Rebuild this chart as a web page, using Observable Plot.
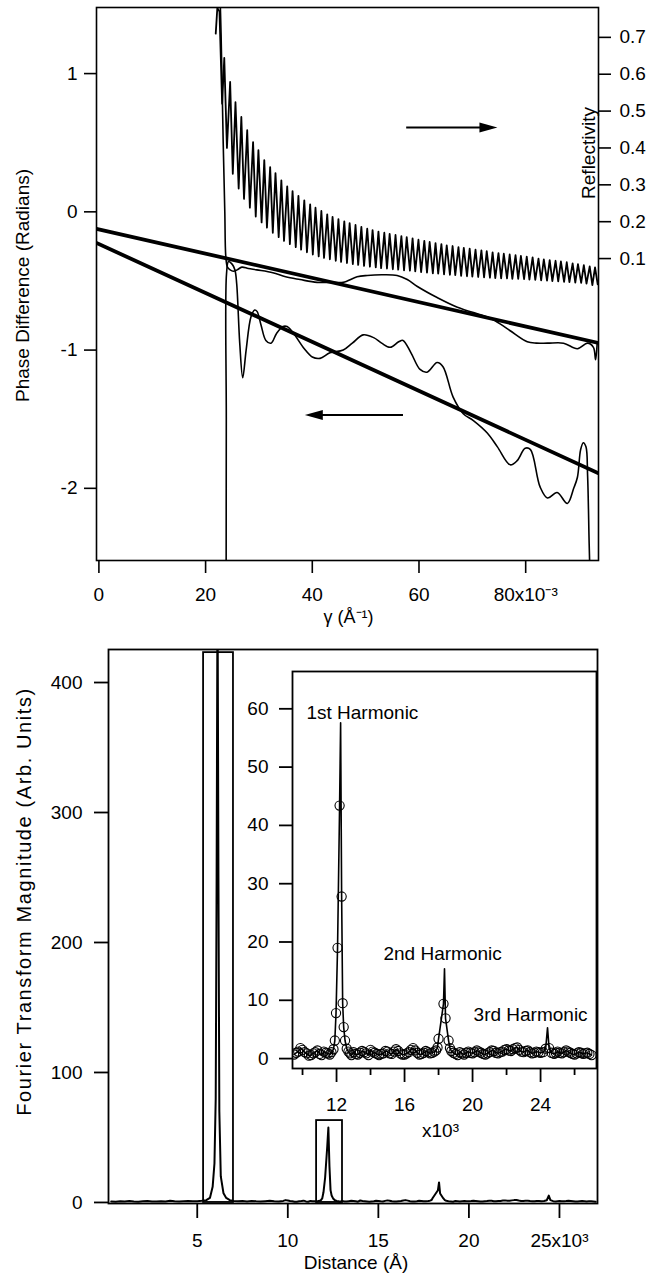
<!DOCTYPE html>
<html>
<head>
<meta charset="utf-8">
<script src="https://cdn.jsdelivr.net/npm/d3@7"></script>
<script src="https://cdn.jsdelivr.net/npm/@observablehq/plot@0.6"></script>
<style>
  html, body { margin: 0; padding: 0; background: #fff; }
  #root { position: relative; width: 658px; height: 1274px; overflow: hidden; background: #fff; }
  #root svg { position: absolute; }
</style>
</head>
<body>
<div id="root"></div>
<script>
// ---------------- TOP PANEL DATA ----------------
// gamma in units of 1e-3 Å^-1
const reflGamma = [21.9, 22.2, 22.6, 23.1, 23.5, 24.0, 24.6, 25.1, 25.6, 26.2, 26.7, 27.2, 27.8, 28.3, 28.9, 29.4, 29.9, 30.5, 31.0, 31.5, 32.1, 32.6, 33.1, 33.7, 34.2, 34.7, 35.3, 35.8, 36.3, 36.9, 37.4, 37.9, 38.5, 39.0, 39.6, 40.1, 40.6, 41.2, 41.7, 42.2, 42.8, 43.3, 43.8, 44.4, 44.9, 45.4, 46.0, 46.5, 47.0, 47.6, 48.1, 48.6, 49.2, 49.7, 50.3, 50.8, 51.3, 51.9, 52.4, 52.9, 53.5, 54.0, 54.5, 55.1, 55.6, 56.1, 56.7, 57.2, 57.7, 58.3, 58.8, 59.3, 59.9, 60.4, 61.0, 61.5, 62.0, 62.6, 63.1, 63.6, 64.2, 64.7, 65.2, 65.8, 66.3, 66.8, 67.4, 67.9, 68.4, 69.0, 69.5, 70.0, 70.6, 71.1, 71.7, 72.2, 72.7, 73.3, 73.8, 74.3, 74.9, 75.4, 75.9, 76.5, 77.0, 77.5, 78.1, 78.6, 79.1, 79.7, 80.2, 80.7, 81.3, 81.8, 82.4, 82.9, 83.4, 84.0, 84.5, 85.0, 85.6, 86.1, 86.6, 87.2, 87.7, 88.2, 88.8, 89.3, 89.8, 90.4, 90.9, 91.4, 92.0, 92.5, 93.0, 93.5];
const reflValue = [0.71, 0.78, 0.77, 0.52, 0.644, 0.40, 0.579, 0.33, 0.524, 0.29, 0.484, 0.262, 0.448, 0.238, 0.416, 0.214, 0.394, 0.198, 0.367, 0.184, 0.348, 0.170, 0.332, 0.158, 0.312, 0.148, 0.296, 0.139, 0.283, 0.131, 0.270, 0.124, 0.258, 0.117, 0.247, 0.111, 0.238, 0.106, 0.229, 0.102, 0.220, 0.098, 0.213, 0.094, 0.207, 0.091, 0.201, 0.088, 0.196, 0.085, 0.191, 0.083, 0.186, 0.080, 0.181, 0.078, 0.177, 0.076, 0.173, 0.074, 0.170, 0.073, 0.167, 0.071, 0.164, 0.070, 0.161, 0.068, 0.158, 0.067, 0.155, 0.065, 0.151, 0.063, 0.148, 0.062, 0.145, 0.060, 0.142, 0.059, 0.139, 0.057, 0.136, 0.056, 0.134, 0.055, 0.131, 0.053, 0.129, 0.052, 0.127, 0.051, 0.124, 0.050, 0.122, 0.049, 0.120, 0.048, 0.117, 0.047, 0.115, 0.046, 0.113, 0.046, 0.111, 0.045, 0.109, 0.045, 0.107, 0.044, 0.105, 0.043, 0.103, 0.042, 0.100, 0.041, 0.098, 0.040, 0.096, 0.039, 0.094, 0.038, 0.092, 0.037, 0.090, 0.036, 0.087, 0.035, 0.085, 0.034, 0.082, 0.032, 0.079, 0.028, 0.076, 0.030];

const phaseUpperGamma = [22.6, 22.9, 23.3, 23.6, 23.8, 24.1, 24.6, 25.2, 25.9, 26.8, 28.0, 29.6, 32.6, 35.0, 37.7, 40.9, 43.9, 45.8, 48.4, 50.3, 53.0, 55.9, 57.8, 59.7, 63.4, 67.2, 72.0, 73.4, 75.2, 77.1, 80.3, 82.0, 84.1, 87.1, 89.7, 91.6, 92.7, 93.1, 93.4];
const phaseUpperValue = [1.7, 1.29, 0.5, 0.0, -0.33, -0.40, -0.42, -0.43, -0.42, -0.40, -0.41, -0.42, -0.44, -0.47, -0.49, -0.51, -0.51, -0.51, -0.47, -0.46, -0.455, -0.46, -0.49, -0.54, -0.62, -0.69, -0.75, -0.77, -0.81, -0.86, -0.94, -0.95, -0.95, -0.95, -0.99, -0.95, -0.98, -1.07, -0.95];

const phaseLowerGamma = [23.85, 23.88, 23.92, 24.3, 25.0, 25.5, 25.83, 26.4, 26.96, 27.6, 28.5, 29.2, 29.64, 30.4, 31.3, 32.27, 33.3, 34.5, 35.27, 36.5, 38.5, 40.0, 41.46, 43.3, 45.8, 47.5, 49.53, 51.5, 53.0, 54.6, 56.2, 57.0, 58.5, 60.2, 61.5, 63.4, 64.5, 66.4, 68.3, 70.2, 72.8, 74.7, 77.1, 78.4, 79.9, 80.9, 82.7, 84.1, 85.9, 87.8, 89.0, 89.7, 90.3, 90.8, 91.3, 91.6, 91.9, 92.1];
const phaseLowerValue = [-2.7, -1.5, -0.45, -0.36, -0.38, -0.42, -0.52, -0.95, -1.20, -1.0, -0.76, -0.71, -0.72, -0.82, -0.93, -0.95, -0.88, -0.83, -0.83, -0.88, -0.99, -1.05, -1.06, -1.02, -1.0, -0.95, -0.89, -0.91, -0.95, -0.98, -0.94, -0.93, -1.02, -1.14, -1.16, -1.09, -1.12, -1.34, -1.46, -1.51, -1.60, -1.70, -1.83, -1.80, -1.71, -1.72, -1.99, -2.07, -2.03, -2.11, -2.0, -1.92, -1.72, -1.67, -1.7, -1.9, -2.4, -2.7];

const fitGamma = [-0.45, 93.65];
const fitUpperValue = [-0.123, -0.949];
const fitLowerValue = [-0.225, -1.891];

const gammaTicks = [0, 20, 40, 60, 80];
const gammaTickLabels = ["0", "20", "40", "60", "80x10\u207B\u00B3"];
const phaseTicks = [-2, -1, 0, 1];
const phaseTickLabels = ["-2", "-1", "0", "1"];
const reflTicks = [0.1, 0.2, 0.3, 0.4, 0.5, 0.6, 0.7];
const reflTickLabels = ["0.1", "0.2", "0.3", "0.4", "0.5", "0.6", "0.7"];

// ---------------- BOTTOM PANEL DATA ----------------
// distance in units of 1e3 Å
const ftDistance = [0.25, 0.5, 0.75, 1.0, 1.25, 1.5, 1.75, 2.0, 2.25, 2.5, 2.75, 3.0, 3.25, 3.5, 3.75, 4.0, 4.25, 4.5, 4.75, 5.0, 5.25, 5.5, 5.7, 5.85, 5.95, 6.02, 6.07, 6.12, 6.17, 6.22, 6.3, 6.45, 6.6, 6.8, 7.0, 7.25, 7.5, 7.75, 8.0, 8.25, 8.5, 8.75, 9.0, 9.25,
  9.5, 9.625, 9.75, 9.875, 10.0, 10.125, 10.25, 10.375, 10.5, 10.625, 10.75, 10.875, 11.0, 11.125, 11.25, 11.375, 11.5, 11.6, 11.7, 11.82, 11.9, 11.97, 12.06, 12.18, 12.30, 12.36, 12.42, 12.5, 12.6, 12.7, 12.8, 12.875,
  13.0, 13.125, 13.25, 13.375, 13.5, 13.625, 13.75, 13.875, 14.0, 14.125, 14.25, 14.375, 14.5, 14.625, 14.75, 14.875, 15.0, 15.125, 15.25, 15.375, 15.5, 15.625, 15.75, 15.875,
  16.0, 16.125, 16.25, 16.375, 16.5, 16.625, 16.75, 16.875, 17.0, 17.125, 17.25, 17.375, 17.5, 17.625, 17.75, 17.85, 17.94, 18.0, 18.29, 18.41, 18.59, 18.67, 18.75, 18.875,
  19.0, 19.125, 19.25, 19.375, 19.5, 19.625, 19.75, 19.875, 20.0, 20.125, 20.25, 20.375, 20.5, 20.625, 20.75, 20.875, 21.0, 21.125, 21.25, 21.375, 21.5, 21.625, 21.75, 21.875,
  22.0, 22.125, 22.25, 22.375, 22.5, 22.625, 22.75, 22.875, 23.0, 23.125, 23.25, 23.375, 23.5, 23.625, 23.75, 23.875, 24.0, 24.15, 24.3, 24.5, 24.65, 24.8, 24.9,
  25.0, 25.125, 25.25, 25.375, 25.5, 25.625, 25.75, 25.875, 26.0, 26.125, 26.25, 26.375, 26.5, 26.625, 26.75, 26.875, 27.0];
const ftMagnitude = [0.8, 0.6, 0.9, 0.7, 1.1, 0.8, 0.6, 0.9, 1.2, 0.8, 0.7, 1.0, 0.8, 1.3, 0.9, 0.7, 1.0, 1.2, 0.9, 1.0, 1.3, 1.8, 3.5, 12, 30, 80, 250, 480, 250, 70, 20, 7, 3.5, 1.8, 1.2, 0.9, 1.1, 0.8, 1.2, 0.9, 0.7, 1.0, 1.3, 0.9,
  0.7, 1.0, 1.2, 1.8, 1.5, 1.1, 0.9, 0.5, 0.6, 0.9, 1.1, 1.4, 0.8, 0.6, 1.2, 1.0, 0.9, 0.7, 1.1, 1.6, 3.1, 7.8, 19.0, 43.4, 27.8, 9.5, 5.4, 3.1, 1.7, 1.2, 0.9, 0.6,
  1.1, 0.8, 0.7, 1.0, 1.3, 1.1, 0.9, 0.6, 1.5, 1.2, 1.0, 0.8, 0.6, 0.8, 0.9, 1.3, 1.2, 0.9, 0.8, 1.2, 1.6, 1.3, 0.9, 0.7,
  0.7, 0.9, 1.1, 1.5, 1.8, 1.4, 1.0, 0.7, 0.8, 1.0, 1.3, 1.1, 0.9, 1.0, 1.2, 1.4, 1.9, 3.4, 9.4, 6.9, 3.1, 1.8, 1.3, 1.0,
  0.8, 0.6, 1.1, 0.9, 0.7, 1.0, 1.2, 1.0, 0.9, 1.1, 1.4, 1.2, 1.0, 0.8, 0.7, 0.9, 1.1, 1.4, 1.3, 1.0, 0.9, 1.1, 1.2, 1.5,
  1.6, 1.4, 1.3, 1.6, 1.8, 1.9, 1.5, 1.2, 1.1, 1.3, 1.4, 1.1, 0.9, 1.0, 1.2, 1.1, 1.0, 1.1, 1.7, 1.8, 1.0, 0.8, 1.0,
  1.2, 1.0, 0.9, 1.1, 1.4, 1.2, 1.0, 0.8, 0.7, 0.9, 1.1, 1.0, 0.8, 0.9, 1.0, 0.8, 0.6];
// harmonic peak apexes (line only, between sampled circles)
const apexDistance = [12.24, 18.35, 24.41];
const apexMagnitude = [57.6, 15.4, 5.3];

const boxFrom = [5.35, 11.59];
const boxTo = [7.0, 13.02];
const boxTop = [423, 63];

const distTicks = [5, 10, 15, 20, 25];
const distTickLabels = ["5", "10", "15", "20", "25x10\u00B3"];
const magTicks = [0, 100, 200, 300, 400];
const insetMajorTicks = [12, 16, 20, 24];
const insetMinorTicks = [10, 14, 18, 22, 26];
const insetMagTicks = [0, 10, 20, 30, 40, 50, 60];
const harmonicLabels = ["1st Harmonic", "2nd Harmonic", "3rd Harmonic"];

// ---------------- BUILD ----------------
const FONT = '"Liberation Sans", Arial, Helvetica, sans-serif';
const baseStyle = {fontFamily: FONT, fontSize: "19px", color: "#000", background: "transparent", overflow: "visible"};
const rows = (xs, ys) => xs.map((x, i) => ({x, y: ys[i]}));
const arrowHead = {
  draw(ctx) { ctx.moveTo(0, 0); ctx.lineTo(-18, -5); ctx.lineTo(-18, 5); ctx.closePath(); }
};
const root = document.getElementById("root");
function place(svg, left, top) {
  svg.style.left = left + "px";
  svg.style.top = top + "px";
  root.appendChild(svg);
}

// Top: phase plot
const topPhase = Plot.plot({
  width: 658, height: 630,
  marginLeft: 96, marginRight: 60, marginTop: 7, marginBottom: 70,
  style: baseStyle,
  x: {domain: [-0.45, 93.65]},
  y: {domain: [-2.522, 1.478]},
  marks: [
    Plot.line(rows(fitGamma, fitUpperValue), {x: "x", y: "y", stroke: "#000", strokeWidth: 3.8, clip: true}),
    Plot.line(rows(fitGamma, fitLowerValue), {x: "x", y: "y", stroke: "#000", strokeWidth: 3.8, clip: true}),
    Plot.line(rows(phaseUpperGamma, phaseUpperValue), {x: "x", y: "y", stroke: "#000", strokeWidth: 1.6, curve: "catmull-rom", clip: true}),
    Plot.line(rows(phaseLowerGamma, phaseLowerValue), {x: "x", y: "y", stroke: "#000", strokeWidth: 1.6, curve: "catmull-rom", clip: true}),
    Plot.frame({stroke: "#000", strokeWidth: 1.6}),
    Plot.axisY(phaseTicks, {anchor: "left", tickSize: 12, tickPadding: 7, strokeWidth: 1.6, tickFormat: (d) => phaseTickLabels[phaseTicks.indexOf(d)], label: null}),
    Plot.axisX(gammaTicks, {anchor: "bottom", tickSize: 13, tickPadding: 14, strokeWidth: 1.6, tickFormat: (d) => gammaTickLabels[gammaTicks.indexOf(d)], label: null}),
    // arrows
    Plot.link([0], {x1: 57.6, x2: 71.5, y1: 0.61, y2: 0.61, stroke: "#000", strokeWidth: 2}),
    Plot.dot([0], {x: 74.7, y: 0.61, symbol: arrowHead, fill: "#000", stroke: "none", r: 5}),
    Plot.link([0], {x1: 57.0, x2: 41.8, y1: -1.47, y2: -1.47, stroke: "#000", strokeWidth: 2}),
    Plot.dot([0], {x: 38.6, y: -1.47, symbol: arrowHead, fill: "#000", stroke: "none", r: 5, rotate: 180}),
    Plot.text(["Phase Difference (Radians)"], {text: (d) => d, frameAnchor: "left", dx: -74, dy: 1.5, rotate: -90, textAnchor: "middle", lineAnchor: "middle", fill: "#000"}),
    Plot.text(["\u03B3 (\u00C5\u207B\u00B9)"], {text: (d) => d, frameAnchor: "bottom", dx: 1, dy: 57, lineAnchor: "middle", fill: "#000", fontSize: 18})
  ]
});
place(topPhase, 0, 0);

// Top: reflectivity overlay (secondary axis)
const topRefl = Plot.plot({
  width: 658, height: 630,
  marginLeft: 96, marginRight: 60, marginTop: 7, marginBottom: 70,
  style: baseStyle,
  x: {domain: [-0.45, 93.65], axis: null},
  y: {domain: [-0.719, 0.781], axis: null},
  marks: [
    Plot.line(rows(reflGamma, reflValue), {x: "x", y: "y", stroke: "#000", strokeWidth: 1.8, clip: true}),
    Plot.axisY(reflTicks, {anchor: "right", tickSize: 12, tickPadding: 9, strokeWidth: 1.6, tickFormat: (d) => reflTickLabels[reflTicks.indexOf(d)], label: null}),
    Plot.text(["Reflectivity"], {text: (d) => d, frameAnchor: "right", dx: -10, dy: -131, rotate: -90, textAnchor: "middle", lineAnchor: "middle", fill: "#000"})
  ]
});
place(topRefl, 0, 0);

// Bottom main
const mainLine = rows(ftDistance.concat(apexDistance), ftMagnitude.concat(apexMagnitude)).sort((a, b) => a.x - b.x);
const boxes = boxFrom.map((x1, i) => ({x1, x2: boxTo[i], y2: boxTop[i]}));
const bottomMain = Plot.plot({
  width: 658, height: 644,
  marginLeft: 108, marginRight: 61, marginTop: 19, marginBottom: 71,
  style: baseStyle,
  x: {domain: [0.1, 27.1]},
  y: {domain: [-0.8, 425.4]},
  marks: [
    Plot.line(mainLine, {x: "x", y: "y", stroke: "#000", strokeWidth: 2, clip: true}),
    Plot.rect(boxes, {x1: "x1", x2: "x2", y1: 0, y2: "y2", fill: "none", stroke: "#000", strokeWidth: 1.8}),
    Plot.frame({stroke: "#000", strokeWidth: 1.8}),
    Plot.axisY(magTicks, {anchor: "left", tickSize: 14, tickPadding: 12, strokeWidth: 1.8, tickFormat: (d) => String(d), label: null}),
    Plot.axisX(distTicks, {anchor: "bottom", tickSize: 15, tickPadding: 15, strokeWidth: 1.8, tickFormat: (d) => distTickLabels[distTicks.indexOf(d)], label: null}),
    Plot.text(["Fourier Transform Magnitude (Arb. Units)"], {text: (d) => d, frameAnchor: "left", dx: -84, dy: -25, rotate: -90, textAnchor: "middle", lineAnchor: "middle", fill: "#000", fontSize: 20}),
    Plot.text(["Distance (\u00C5)"], {text: (d) => d, frameAnchor: "bottom", dx: 3, dy: 59, lineAnchor: "middle", fill: "#000"})
  ]
});
// the reference's vertical magnitude title is set more loosely than the other text
bottomMain.querySelectorAll("text").forEach((t) => {
  if (t.textContent === "Fourier Transform Magnitude (Arb. Units)") t.setAttribute("letter-spacing", "1.6");
});
place(bottomMain, 0, 630);

// Inset
const insetCircles = rows(ftDistance, ftMagnitude).filter((d) => d.x >= 9.5);
const insetLine = mainLine.filter((d) => d.x >= 9.4);
const inset = Plot.plot({
  width: 420, height: 500,
  marginLeft: 92, marginRight: 24, marginTop: 21, marginBottom: 82,
  style: baseStyle,
  x: {domain: [9.41, 27.29]},
  y: {domain: [-1.7, 66.4]},
  marks: [
    Plot.frame({fill: "#fff", stroke: "none"}),
    Plot.line(insetLine, {x: "x", y: "y", stroke: "#000", strokeWidth: 1.6, clip: true}),
    Plot.dot(insetCircles, {x: "x", y: "y", r: 4.6, stroke: "#000", strokeWidth: 1.1, fill: "none", clip: true}),
    Plot.frame({stroke: "#000", strokeWidth: 1.8}),
    Plot.axisY(insetMagTicks, {anchor: "left", tickSize: 13, tickPadding: 11, strokeWidth: 1.8, tickFormat: (d) => String(d), label: null}),
    Plot.axisX(insetMajorTicks, {anchor: "bottom", tickSize: 14, tickPadding: 15, strokeWidth: 1.8, tickFormat: (d) => String(d), label: null}),
    Plot.axisX(insetMinorTicks, {anchor: "bottom", tickSize: 7, strokeWidth: 1.8, tickFormat: () => "", label: null}),
    Plot.text([harmonicLabels[0]], {text: (d) => d, x: 10.23, y: 59.3, textAnchor: "start", lineAnchor: "middle", fill: "#000"}),
    Plot.text([harmonicLabels[1]], {text: (d) => d, x: 14.76, y: 18.0, textAnchor: "start", lineAnchor: "middle", fill: "#000"}),
    Plot.text([harmonicLabels[2]], {text: (d) => d, x: 20.06, y: 7.5, textAnchor: "start", lineAnchor: "middle", fill: "#000"}),
    Plot.text(["x10\u00B3"], {text: (d) => d, frameAnchor: "bottom", dx: -4, dy: 62, lineAnchor: "middle", fill: "#000"})
  ]
});
place(inset, 200, 650);
</script>
</body>
</html>
